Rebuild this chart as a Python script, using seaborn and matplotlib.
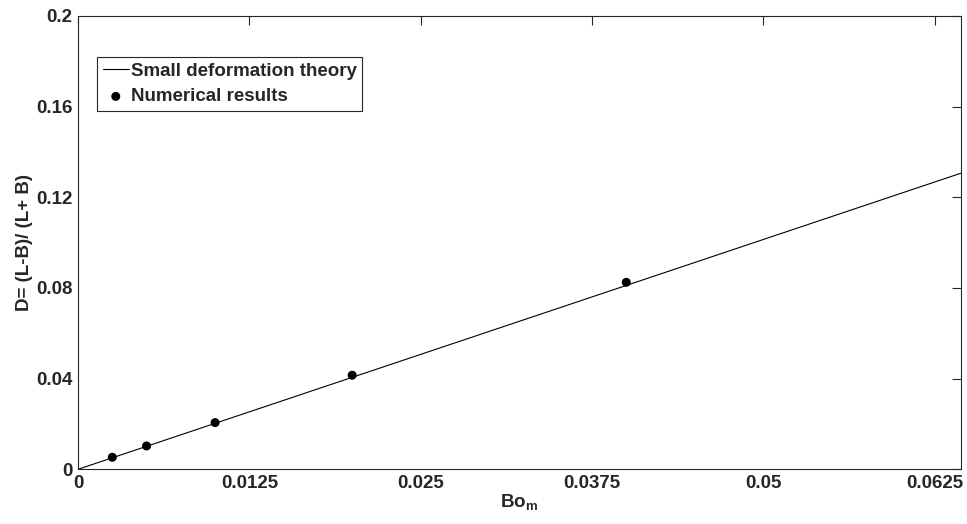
import matplotlib
matplotlib.use("Agg")
import matplotlib.pyplot as plt
import seaborn as sns

# theory line (small deformation) and numerical points
bo_theory = [0.0, 0.0644]
d_theory = [0.0, 0.1306]
bo_num = [0.0025, 0.005, 0.01, 0.02, 0.04]
d_num = [0.0053, 0.0103, 0.0206, 0.0415, 0.0825]

x_ticks = [0, 0.0125, 0.025, 0.0375, 0.05, 0.0625]
x_tick_labels = ['0', '0.0125', '0.025', '0.0375', '0.05', '0.0625']
y_ticks = [0, 0.04, 0.08, 0.12, 0.16, 0.2]
y_tick_labels = ['0', '0.04', '0.08', '0.12', '0.16', '0.2']

sns.set_style('white')
plt.rcParams['font.family'] = ['Liberation Sans', 'DejaVu Sans']
plt.rcParams['font.weight'] = 'bold'
plt.rcParams['mathtext.fontset'] = 'custom'
plt.rcParams['mathtext.bf'] = 'Liberation Sans:bold'
plt.rcParams['mathtext.rm'] = 'Liberation Sans:bold'

fs = 13.5

fig = plt.figure(figsize=(9.67, 5.24), dpi=100)
ax = fig.add_axes([0.0807, 0.1044, 0.9128, 0.8651])

sns.lineplot(x=bo_theory, y=d_theory, color='black', linewidth=0.8,
             label='Small deformation theory', ax=ax)
sns.scatterplot(x=bo_num, y=d_num, color='black', s=42, edgecolor='none',
                label='Numerical results', ax=ax, zorder=3)

ax.set_xlim(0, 0.0644)
ax.set_ylim(0, 0.2)
ax.set_xticks(x_ticks)
ax.set_xticklabels(x_tick_labels)
ax.set_yticks(y_ticks)
ax.set_yticklabels(y_tick_labels)
ax.tick_params(direction='in', length=6.5, width=0.8, color='#262626',
               top=True, right=True, labelsize=fs, pad=4, labelcolor='#262626')
for lab in ax.get_xticklabels() + ax.get_yticklabels():
    lab.set_fontweight('bold')
for sp in ax.spines.values():
    sp.set_visible(True)
    sp.set_color('#262626')
    sp.set_linewidth(0.8)

ax.set_xlabel(r'$\mathbf{Bo_m}$', fontsize=fs, fontweight='bold', labelpad=0, color='#262626')
ax.set_ylabel('D= (L-B)/ (L+ B)', fontsize=fs, fontweight='bold', labelpad=2, color='#262626')

leg = ax.legend(loc='upper left', bbox_to_anchor=(0.0215, 0.9095), fontsize=fs,
                frameon=True, fancybox=False, edgecolor='#262626', framealpha=1,
                handlelength=1.4, handletextpad=0.1, borderpad=0.3,
                labelspacing=0.45, borderaxespad=0)
leg.get_frame().set_linewidth(0.8)
for t in leg.get_texts():
    t.set_fontweight('bold')

plt.savefig('out.png', dpi=100)
